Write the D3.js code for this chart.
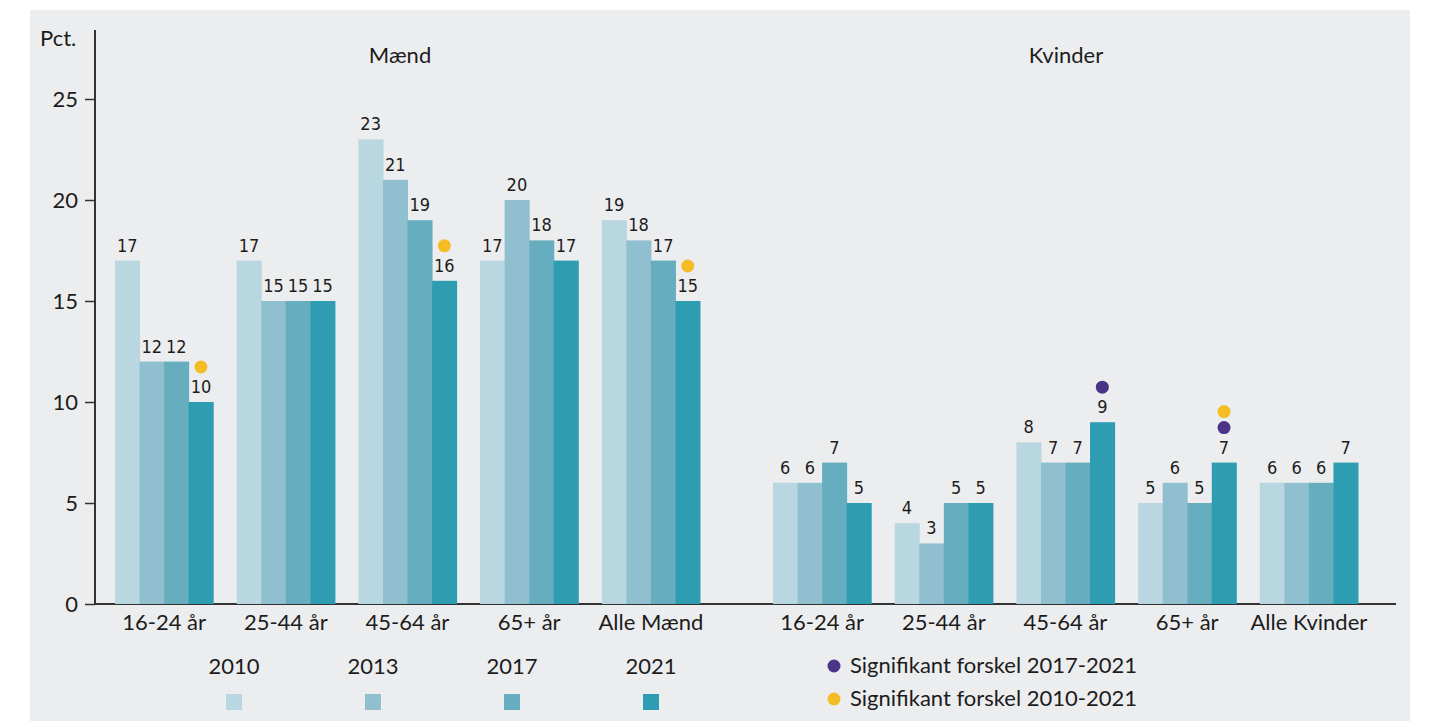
<!DOCTYPE html>
<html>
<head>
<meta charset="utf-8">
<script src="https://cdn.jsdelivr.net/npm/d3@7"></script>
<style>
  body { margin: 0; background: #fff; }
  svg text { font-family: Lato, "Open Sans", sans-serif; fill: #1c1c1c; }
  .val { font-family: "Liberation Sans Narrow", "DejaVu Sans Condensed", sans-serif; font-stretch: condensed; }
</style>
</head>
<body>
<svg width="1429" height="721"></svg>
<script>
// Data
const years = ['2010', '2013', '2017', '2021'];
const menGroups = ['16-24 år', '25-44 år', '45-64 år', '65+ år', 'Alle Mænd'];
const womenGroups = ['16-24 år', '25-44 år', '45-64 år', '65+ år', 'Alle Kvinder'];
const menValues = [
  [17, 12, 12, 10],
  [17, 15, 15, 15],
  [23, 21, 19, 16],
  [17, 20, 18, 17],
  [19, 18, 17, 15]
];
const womenValues = [
  [6, 6, 7, 5],
  [4, 3, 5, 5],
  [8, 7, 7, 9],
  [5, 6, 5, 7],
  [6, 6, 6, 7]
];
// significance flags on the 2021 bar: [2017-2021, 2010-2021]
const menSig = [[false, true], [false, false], [false, true], [false, false], [false, true]];
const womenSig = [[false, false], [false, false], [true, false], [true, true], [false, false]];
const yTicks = [0, 5, 10, 15, 20, 25];
const sigLabels = ['Signifikant forskel 2017-2021', 'Signifikant forskel 2010-2021'];

const yearColors = ['#b9d7e0', '#90bfcf', '#66aebf', '#2e9db2'];
const sigColors = ['#4b3488', '#f6bc26'];

const svg = d3.select('svg');

// panel background
svg.append('rect').attr('x', 30).attr('y', 10).attr('width', 1380).attr('height', 711).attr('fill', '#ecedef');

const y = d3.scaleLinear().domain([0, 25]).range([604, 99]);
const color = d3.scaleOrdinal(years, yearColors);

// y axis
const yAxis = svg.append('g').attr('transform', 'translate(95,0)')
  .call(d3.axisLeft(y).tickValues(yTicks).tickSize(10).tickPadding(7).tickSizeOuter(0));
yAxis.select('.domain').remove();
yAxis.selectAll('line').attr('stroke', '#333').attr('stroke-width', 1.5);
yAxis.selectAll('text').style('font-size', '22px').style('font-family', 'Lato, sans-serif').attr('fill', '#1c1c1c');
svg.append('line').attr('x1', 95).attr('x2', 95).attr('y1', 30).attr('y2', 605)
  .attr('stroke', '#333').attr('stroke-width', 2);
svg.append('text').attr('x', 40).attr('y', 46).style('font-size', '22px').text('Pct.');

// x axis baseline
svg.append('line').attr('x1', 94).attr('x2', 1396).attr('y1', 604).attr('y2', 604)
  .attr('stroke', '#333').attr('stroke-width', 2);

function drawSection(groups, values, sig, range, title, titleX) {
  const x0 = d3.scaleBand().domain(groups).range(range).paddingInner(0.193).paddingOuter(0);
  const x1 = d3.scaleBand().domain(years).range([0, x0.bandwidth()]);

  const g = svg.append('g').selectAll('g').data(groups).join('g')
    .attr('transform', d => `translate(${x0(d)},0)`);

  g.selectAll('rect').data((d, i) => values[i].map((v, j) => ({ year: years[j], v })))
    .join('rect')
    .attr('x', d => x1(d.year))
    .attr('y', d => y(d.v))
    .attr('width', x1.bandwidth() + 0.5)
    .attr('height', d => y(0) - y(d.v))
    .attr('fill', d => color(d.year));

  g.selectAll('text.val').data((d, i) => values[i].map((v, j) => ({ year: years[j], v })))
    .join('text')
    .attr('class', 'val')
    .attr('x', d => x1(d.year) + x1.bandwidth() / 2)
    .attr('y', d => y(d.v) - 9)
    .attr('text-anchor', 'middle')
    .style('font-size', '18px')
    .text(d => d.v);

  // significance dots above the 2021 bar
  g.each(function (d, i) {
    const top = y(values[i][3]);
    const cx = x1('2021') + x1.bandwidth() / 2;
    let offset = 35;
    [0, 1].forEach(k => {
      if (sig[i][k]) {
        d3.select(this).append('circle').attr('cx', cx).attr('cy', top - offset).attr('r', 6.5).attr('fill', sigColors[k]);
        offset += 16;
      }
    });
  });

  // category labels
  svg.append('g').selectAll('text').data(groups).join('text')
    .attr('x', d => x0(d) + x0.bandwidth() / 2)
    .attr('y', 630)
    .attr('text-anchor', 'middle')
    .style('font-size', '22px')
    .text(d => d);

  svg.append('text').attr('x', titleX).attr('y', 63).attr('text-anchor', 'middle')
    .style('font-size', '22px').text(title);
}

drawSection(menGroups, menValues, menSig, [115, 700], 'Mænd', 400);
drawSection(womenGroups, womenValues, womenSig, [773, 1358], 'Kvinder', 1066);

// year legend
const legendX = d3.scalePoint().domain(years).range([234, 651]);
const leg = svg.append('g').selectAll('g').data(years).join('g')
  .attr('transform', d => `translate(${legendX(d)},0)`);
leg.append('text').attr('y', 674).attr('text-anchor', 'middle').style('font-size', '22px').text(d => d);
leg.append('rect').attr('x', -8).attr('y', 694).attr('width', 16).attr('height', 16).attr('fill', d => color(d));

// significance legend
const sigLeg = svg.append('g').selectAll('g').data(sigLabels).join('g')
  .attr('transform', (d, i) => `translate(834,${666 + i * 33})`);
sigLeg.append('circle').attr('r', 6.5).attr('fill', (d, i) => sigColors[i]);
sigLeg.append('text').attr('x', 16).attr('y', 7).style('font-size', '22px').text(d => d);
</script>
</body>
</html>
